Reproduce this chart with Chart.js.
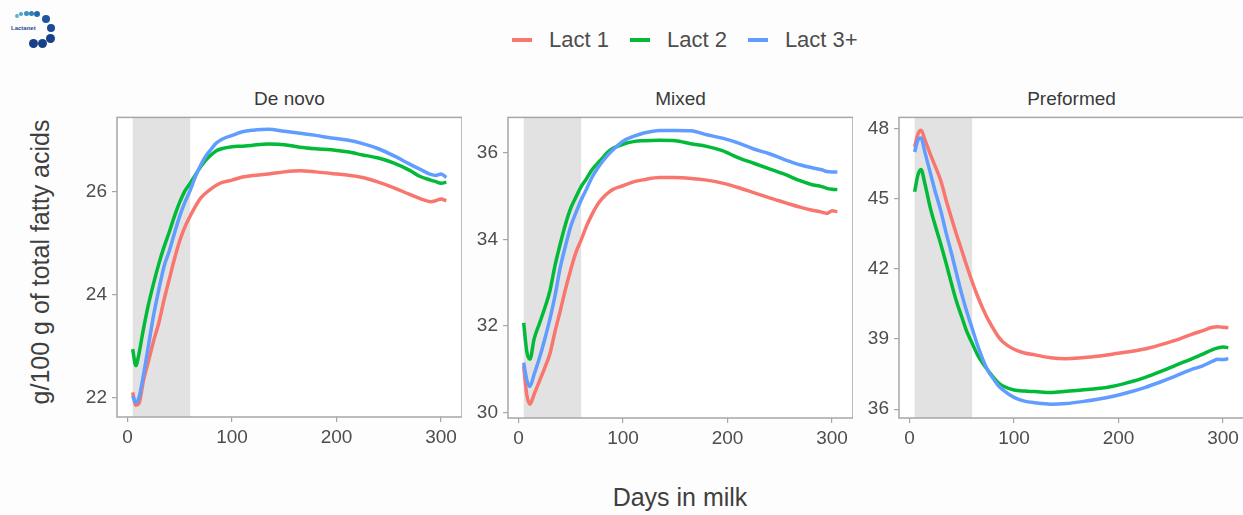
<!DOCTYPE html>
<html>
<head>
<meta charset="utf-8">
<script src="https://cdn.jsdelivr.net/npm/chart.js@4"></script>
<style>
  html, body { margin: 0; padding: 0; overflow: hidden; }
  body { width: 1243px; height: 515px; background: #fdfdfd; position: relative; font-family: "Liberation Sans", Arial, sans-serif; color: #4d4d4d; }
  canvas { position: absolute; }
  .strip { position: absolute; top: 88px; width: 345px; text-align: center; font-size: 19px; color: #3a3a3a; }
  .legend { position: absolute; top: 27px; left: 512px; display: flex; align-items: center; font-size: 22px; color: #4d4d4d; }
  .legend .key { width: 20px; height: 4px; margin: 0 17px 0 0; }
  .legend span.lab { margin-right: 21px; }
  .ytitle { position: absolute; left: 40px; top: 262px; transform: translate(-50%, -50%) rotate(-90deg); font-size: 25px; white-space: nowrap; color: #3f3f3f; }
  .xtitle { position: absolute; left: 680px; top: 497px; transform: translate(-50%, -50%); font-size: 25px; color: #3f3f3f; }
  .dot { position: absolute; border-radius: 50%; }
  .logo-txt { position: absolute; left: 11px; top: 25px; font-size: 6px; color: #1b4f8a; font-weight: bold; }
</style>
</head>
<body>
<div class="legend">
  <div class="key" style="background:#F8766D"></div><span class="lab">Lact 1</span>
  <div class="key" style="background:#00BA38"></div><span class="lab">Lact 2</span>
  <div class="key" style="background:#619CFF"></div><span class="lab">Lact 3+</span>
</div>
<div class="strip" style="left:117px">De novo</div>
<div class="strip" style="left:508px">Mixed</div>
<div class="strip" style="left:899px">Preformed</div>
<div class="ytitle">g/100 g of total fatty acids</div>
<div class="xtitle">Days in milk</div>
<div id="logo"></div>
<div class="logo-txt">Lactanet</div>

<canvas id="c1" width="395" height="357" style="left:67px;top:101px"></canvas>
<canvas id="c2" width="395" height="358" style="left:458px;top:101px"></canvas>
<canvas id="c3" width="395" height="358" style="left:849px;top:101px"></canvas>

<script>
// days in milk
const days = [5, 8, 11, 15, 20, 25, 30, 35, 40, 45, 50, 55, 60, 65, 70, 75, 80, 85, 90,
  100, 110, 120, 135, 150, 165, 180, 195, 210, 225, 240, 255, 270, 280, 290, 295, 300, 305];

const seriesNames = ['Lact 1', 'Lact 2', 'Lact 3+'];
const seriesColors = ['#F8766D', '#00BA38', '#619CFF'];
const shadeDays = [5, 60];
const xTicks = [0, 100, 200, 300];

// De novo
const deNovoL1 = [22.1, 21.85, 21.88, 22.3, 22.7, 23.1, 23.45, 23.9, 24.3, 24.7, 25.05, 25.32, 25.53, 25.72, 25.88, 25.98, 26.06, 26.13, 26.18,
  26.23, 26.29, 26.32, 26.35, 26.39, 26.41, 26.39, 26.36, 26.33, 26.28, 26.19, 26.08, 25.95, 25.87, 25.81, 25.83, 25.86, 25.83];
const deNovoL2 = [22.94, 22.62, 22.85, 23.3, 23.8, 24.22, 24.6, 24.93, 25.22, 25.53, 25.8, 26.02, 26.17, 26.33, 26.49, 26.62, 26.72, 26.8, 26.84,
  26.88, 26.89, 26.91, 26.93, 26.92, 26.87, 26.84, 26.82, 26.78, 26.72, 26.66, 26.56, 26.42, 26.3, 26.23, 26.2, 26.17, 26.19];
const deNovoL3 = [22.03, 21.9, 22.0, 22.4, 23.0, 23.6, 24.1, 24.55, 24.85, 25.2, 25.53, 25.8, 26.03, 26.3, 26.52, 26.7, 26.83, 26.95, 27.02,
  27.1, 27.17, 27.2, 27.22, 27.18, 27.14, 27.1, 27.05, 27.01, 26.94, 26.84, 26.7, 26.54, 26.44, 26.34, 26.32, 26.35, 26.28];
const deNovoTicks = [22, 24, 26];

// Mixed
const mixedL1 = [31.07, 30.4, 30.19, 30.42, 30.72, 31.02, 31.35, 31.87, 32.35, 32.85, 33.3, 33.7, 33.99, 34.3, 34.56, 34.78, 34.94, 35.06, 35.15,
  35.24, 35.33, 35.38, 35.43, 35.43, 35.41, 35.37, 35.3, 35.2, 35.08, 34.96, 34.85, 34.74, 34.68, 34.63, 34.6, 34.66, 34.64];
const mixedL2 = [32.07, 31.4, 31.23, 31.7, 32.05, 32.4, 32.8, 33.4, 33.9, 34.35, 34.72, 34.98, 35.22, 35.4, 35.6, 35.74, 35.87, 36.01, 36.1,
  36.2, 36.26, 36.28, 36.29, 36.28, 36.21, 36.15, 36.05, 35.89, 35.76, 35.63, 35.5, 35.35, 35.27, 35.22, 35.18, 35.16, 35.15];
const mixedL3 = [31.15, 30.75, 30.6, 30.88, 31.25, 31.68, 32.15, 32.7, 33.35, 33.85, 34.3, 34.62, 34.91, 35.16, 35.42, 35.62, 35.79, 35.94, 36.06,
  36.27, 36.38, 36.46, 36.52, 36.52, 36.51, 36.42, 36.34, 36.23, 36.09, 35.98, 35.84, 35.72, 35.66, 35.61, 35.57, 35.56, 35.56];
const mixedTicks = [30, 32, 34, 36];

// Preformed
const preL1 = [47.22, 47.75, 47.93, 47.5, 46.9, 46.35, 45.77, 44.95, 44.2, 43.47, 42.8, 42.1, 41.45, 40.85, 40.32, 39.85, 39.46, 39.1, 38.85,
  38.56, 38.4, 38.32, 38.2, 38.16, 38.2, 38.26, 38.36, 38.45, 38.57, 38.75, 38.95, 39.2, 39.35, 39.5, 39.52, 39.5, 39.48];
const preL2 = [45.3, 46.0, 46.25, 45.6, 44.6, 43.8, 43.05, 42.25, 41.4, 40.6, 39.95, 39.3, 38.82, 38.33, 37.97, 37.66, 37.38, 37.13, 36.98,
  36.82, 36.77, 36.75, 36.71, 36.76, 36.82, 36.88, 36.98, 37.15, 37.35, 37.6, 37.88, 38.15, 38.34, 38.55, 38.62, 38.66, 38.63];
const preL3 = [47.0, 47.5, 47.6, 46.95, 46.1, 45.25, 44.48, 43.55, 42.7, 41.8, 40.92, 40.14, 39.45, 38.75, 38.15, 37.65, 37.32, 37.01, 36.8,
  36.5, 36.34, 36.27, 36.21, 36.24, 36.32, 36.42, 36.55, 36.72, 36.92, 37.16, 37.42, 37.7, 37.84, 38.05, 38.13, 38.12, 38.16];
const preTicks = [36, 39, 42, 45, 48];

// logo dots
const logoDots = [[17,16,2,'#5ab4c8'],[21,14,2,'#4aa6c4'],[26,13,2.5,'#3a93c0'],[31,13,2.5,'#2f7fba'],[37,14,3,'#2569ad'],
  [46,19,4,'#1d56a0'],[51,28,4,'#1a4b96'],[50,38,4.5,'#173f8a'],[42,43,4.5,'#173f8a'],[33,43,4.5,'#173f8a']];
const logo = document.getElementById('logo');
logoDots.forEach(d => {
  const el = document.createElement('div');
  el.className = 'dot';
  el.style.left = (d[0] - d[2]) + 'px';
  el.style.top = (d[1] - d[2]) + 'px';
  el.style.width = el.style.height = (d[2] * 2) + 'px';
  el.style.background = d[3];
  logo.appendChild(el);
});

// white panel, grey shaded band and the box around it
const panelDeco = {
  id: 'panelDeco',
  beforeDraw(chart) {
    const {ctx, chartArea: a, scales: {x}} = chart;
    ctx.save();
    ctx.fillStyle = '#ffffff';
    ctx.fillRect(a.left, a.top, a.right - a.left, a.bottom - a.top);
    const x1 = x.getPixelForValue(shadeDays[0]);
    const x2 = x.getPixelForValue(shadeDays[1]);
    ctx.fillStyle = '#e2e2e2';
    ctx.fillRect(x1, a.top, x2 - x1, a.bottom - a.top);
    ctx.restore();
  },
  afterDraw(chart) {
    const {ctx, chartArea: a} = chart;
    ctx.save();
    ctx.strokeStyle = '#a6a6a6';
    ctx.lineWidth = 1.5;
    ctx.strokeRect(a.left, a.top, a.right - a.left, a.bottom - a.top);
    ctx.restore();
  }
};

function makePanel(id, series, yMin, yMax, yTicks) {
  const ctx = document.getElementById(id).getContext('2d');
  return new Chart(ctx, {
    type: 'line',
    data: {
      labels: days,
      datasets: series.map((vals, i) => ({
        label: seriesNames[i],
        data: days.map((d, k) => ({x: d, y: vals[k]})),
        borderColor: seriesColors[i],
        borderWidth: 3.5,
        pointRadius: 0,
        fill: false,
        cubicInterpolationMode: 'monotone',
        order: 3 - i
      }))
    },
    options: {
      responsive: false,
      animation: false,
      devicePixelRatio: 1,
      layout: { padding: { top: 10, left: 0, right: 0, bottom: 0 } },
      plugins: { legend: { display: false }, tooltip: { enabled: false } },
      scales: {
        x: {
          type: 'linear',
          min: -10,
          max: 320,
          afterBuildTicks: s => { s.ticks = xTicks.map(v => ({value: v})); },
          afterFit: s => { s.height = 41; },
          ticks: { color: '#4d4d4d', font: { size: 19, family: 'Liberation Sans' }, padding: 4, maxRotation: 0 },
          grid: { drawOnChartArea: false, color: '#a6a6a6', tickLength: 5, lineWidth: 1.2 },
          border: { display: false }
        },
        y: {
          min: yMin,
          max: yMax,
          afterBuildTicks: s => { s.ticks = yTicks.map(v => ({value: v})); },
          afterFit: s => { s.width = 50; },
          ticks: { color: '#4d4d4d', font: { size: 19, family: 'Liberation Sans' }, padding: 5 },
          grid: { drawOnChartArea: false, color: '#a6a6a6', tickLength: 5, lineWidth: 1.2 },
          border: { display: false }
        }
      }
    },
    plugins: [panelDeco]
  });
}

makePanel('c1', [deNovoL1, deNovoL2, deNovoL3], 21.62, 27.45, deNovoTicks);
makePanel('c2', [mixedL1, mixedL2, mixedL3], 29.87, 36.82, mixedTicks);
makePanel('c3', [preL1, preL2, preL3], 35.62, 48.48, preTicks);
</script>
</body>
</html>
